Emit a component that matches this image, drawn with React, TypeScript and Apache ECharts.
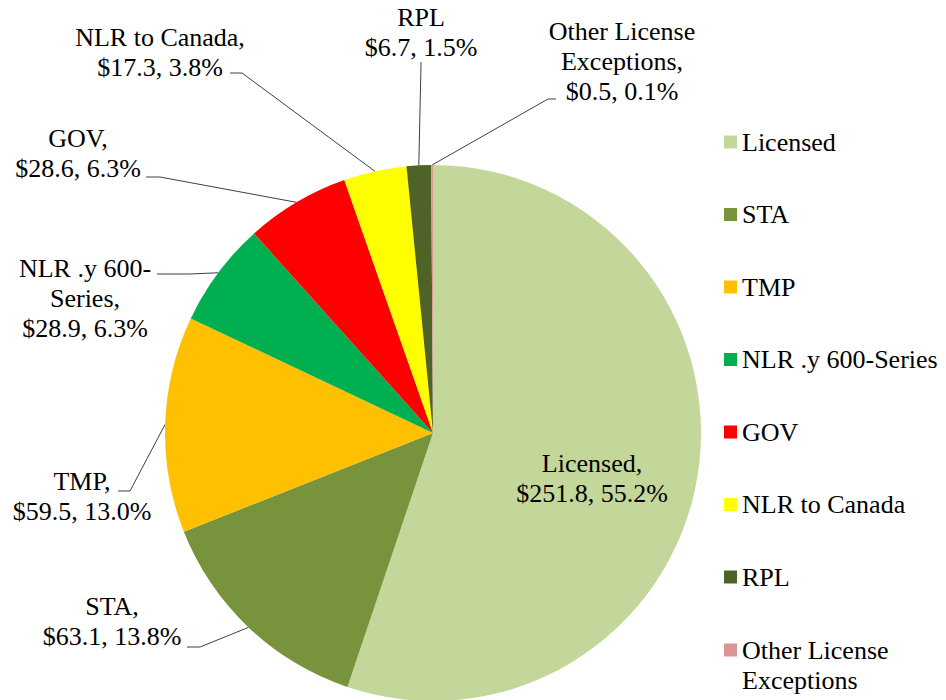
import React, { useEffect, useRef } from 'react';
import * as echarts from 'echarts';

const categories = [
  'Licensed',
  'STA',
  'TMP',
  'NLR .y 600-Series',
  'GOV',
  'NLR to Canada',
  'RPL',
  'Other License Exceptions',
];
const values = [251.8, 63.1, 59.5, 28.9, 28.6, 17.3, 6.7, 0.5];
const labelNames = [
  'Licensed,',
  'STA,',
  'TMP,',
  'NLR .y 600-\nSeries,',
  'GOV,',
  'NLR to Canada,',
  'RPL',
  'Other License\nExceptions,',
];
const colors = ['#C4D79B', '#77933C', '#FFC000', '#00B050', '#FF0000', '#FFFF00', '#4F6228', '#D99694'];

const FONT = 'Times New Roman';

// label block centres and leader-line attachment points (layout only)
const labelSpots: any[] = [
  { x: 592, y: 478 },
  { x: 112, y: 621, elbow: [200, 647], end: [187, 647] },
  { x: 82, y: 496, elbow: [130, 491], end: [118, 491] },
  { x: 85, y: 298, elbow: [190, 274], end: [157, 274] },
  { x: 78, y: 153, elbow: [160, 177], end: [146, 177] },
  { x: 160, y: 52, elbow: [242, 73], end: [230, 73] },
  { x: 421, y: 32, elbow: [421, 64], end: [421, 62] },
  { x: 622, y: 61, elbow: [548, 99], end: [556, 99] },
];

export default function App() {
  const ref = useRef<HTMLDivElement>(null);
  useEffect(() => {
    if (!ref.current) return;
    const chart = echarts.init(ref.current, null, { renderer: 'svg' });
    const textStyle = { fontSize: 26, lineHeight: 30, fontFamily: FONT, color: '#000' };
    chart.setOption({
      animation: false,
      backgroundColor: '#fff',
      textStyle: { fontFamily: FONT },
      legend: [
        {
          orient: 'vertical',
          left: 724,
          top: 127,
          padding: 0,
          itemWidth: 13,
          itemHeight: 13,
          itemGap: 42.5,
          icon: 'rect',
          selectedMode: false,
          data: categories.slice(0, 7),
          textStyle,
        },
        {
          orient: 'vertical',
          left: 724,
          top: 605,
          padding: 0,
          itemWidth: 13,
          itemHeight: 13,
          icon: 'rect',
          selectedMode: false,
          data: categories.slice(7),
          formatter: () => '\nOther License\nExceptions',
          textStyle,
        },
      ],
      series: [
        {
          type: 'pie',
          center: [433, 433],
          radius: 268,
          startAngle: 90,
          clockwise: true,
          avoidLabelOverlap: false,
          percentPrecision: 1,
          emphasis: { disabled: true },
          itemStyle: { borderWidth: 0 },
          label: {
            show: true,
            ...textStyle,
            overflow: 'none',
            formatter: (p: any) =>
              `${labelNames[p.dataIndex]}\n$${Number(p.value).toFixed(1)}, ${Number(p.percent).toFixed(1)}%`,
          },
          labelLine: {
            show: true,
            length: 5,
            length2: 5,
            lineStyle: { color: '#404040', width: 1 },
          },
          labelLayout: (params: any) => {
            const s = labelSpots[params.dataIndex];
            const out: any = { x: s.x, y: s.y, align: 'center', verticalAlign: 'middle' };
            if (s.end && params.labelLinePoints) {
              out.labelLinePoints = [params.labelLinePoints[0], s.elbow, s.end];
            }
            return out;
          },
          data: categories.map((name, i) => ({
            name,
            value: values[i],
            itemStyle: { color: colors[i] },
            ...(i === 0 ? { labelLine: { show: false } } : {}),
          })),
        },
      ],
    });
    return () => chart.dispose();
  }, []);
  return (
    <div
      ref={ref}
      style={{ position: 'fixed', left: 0, top: 0, width: 946, height: 700 }}
    />
  );
}
